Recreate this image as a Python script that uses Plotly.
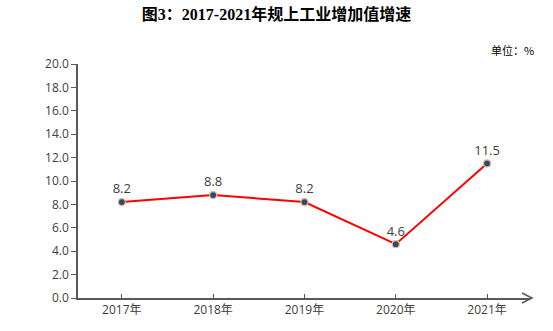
import plotly.graph_objects as go

# 规上工业增加值增速（%）
years = ["2017年", "2018年", "2019年", "2020年", "2021年"]
growth = [8.2, 8.8, 8.2, 4.6, 11.5]
y_ticks = [0, 2, 4, 6, 8, 10, 12, 14, 16, 18, 20]

W, H = 553, 331
ML, MR, MT, MB = 78, 23, 64, 33
PW, PH = W - ML - MR, H - MT - MB

axis_color = "#595959"
text_color = "#404040"
latin_font = "Open Sans, Noto Sans CJK SC, sans-serif"


def px_to_paper(px, py):
    """Convert page pixel coordinates to paper coordinates."""
    return (px - ML) / PW, (H - MB - py) / PH


fig = go.Figure()

fig.add_trace(go.Scatter(
    x=list(range(len(years))),
    y=growth,
    mode="lines+markers+text",
    line=dict(color="#ff0000", width=2),
    marker=dict(size=7, color="#1f4e79", line=dict(color="#f4b183", width=1.2)),
    text=[f"{v:.1f}" for v in growth],
    textposition="top center",
    textfont=dict(family=latin_font, size=13, color=text_color),
    cliponaxis=False,
    showlegend=False,
))

fig.update_layout(
    width=W,
    height=H,
    margin=dict(l=ML, r=MR, t=MT, b=MB),
    paper_bgcolor="white",
    plot_bgcolor="white",
    title=dict(
        text="<b>图3：2017-2021年规上工业增加值增速</b>",
        x=0.5, xanchor="center",
        y=0.955, yanchor="middle",
        font=dict(family="Liberation Serif, Noto Sans CJK SC, serif", size=16, color="#000000"),
    ),
    xaxis=dict(
        range=[-0.48, 4.47],
        tickmode="array",
        tickvals=list(range(len(years))),
        ticktext=years,
        showgrid=False,
        zeroline=False,
        showline=True,
        linecolor=axis_color,
        linewidth=1.5,
        ticks="inside",
        ticklen=4,
        tickcolor=axis_color,
        tickfont=dict(family=latin_font, size=12, color=text_color),
    ),
    yaxis=dict(
        range=[0, 20],
        tickmode="array",
        tickvals=y_ticks,
        ticktext=[f"{v:.1f}" for v in y_ticks],
        showgrid=False,
        zeroline=False,
        showline=True,
        linecolor=axis_color,
        linewidth=1.5,
        ticks="outside",
        ticklen=5,
        tickcolor=axis_color,
        tickfont=dict(family=latin_font, size=12, color=text_color),
    ),
)

# 横轴末端的开口箭头
x0, y0 = px_to_paper(522, H - MB - 5)
x1, y1 = px_to_paper(532, H - MB)
x2, y2 = px_to_paper(522, H - MB + 5)
fig.add_shape(
    type="path", xref="paper", yref="paper",
    path=f"M {x0},{y0} L {x1},{y1} L {x2},{y2}",
    line=dict(color=axis_color, width=1.5),
)
lx, ly = px_to_paper(532, H - MB)
fig.add_shape(
    type="line", xref="paper", yref="paper",
    x0=1.0, y0=0, x1=lx, y1=ly,
    line=dict(color=axis_color, width=1.5),
)

# 单位
ux, uy = px_to_paper(536, 50)
fig.add_annotation(
    x=ux, y=uy, xref="paper", yref="paper", text="单位：%",
    showarrow=False, xanchor="right", yanchor="middle",
    font=dict(family="Noto Sans CJK SC, sans-serif", size=11, color="#000000"),
)

fig.write_html("out.html")
